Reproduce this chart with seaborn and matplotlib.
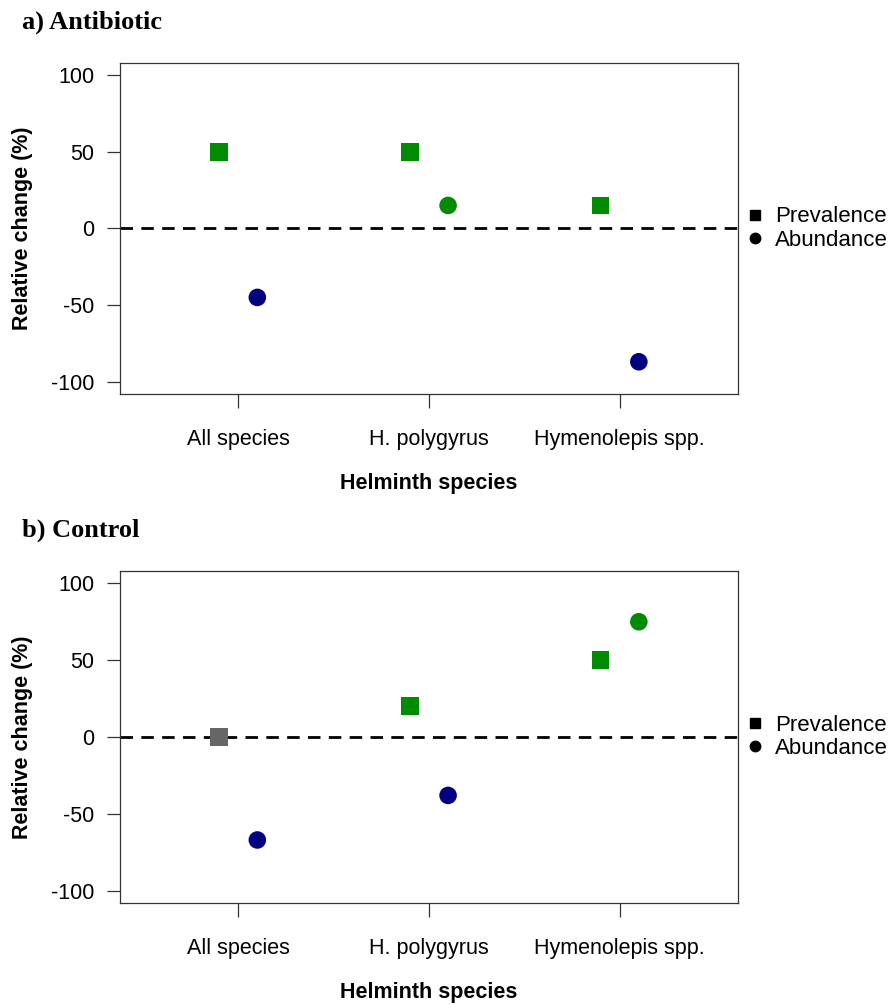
import matplotlib
matplotlib.use("Agg")
import matplotlib.pyplot as plt
from matplotlib.lines import Line2D
import numpy as np
import pandas as pd
import seaborn as sns

# Helminth groups on the x axis
species = ["All species", "H. polygyrus", "Hymenolepis spp."]
measures = ["Prevalence", "Abundance"]

# Relative change (%) after treatment, per group
antibiotic_prevalence = [50, 50, 15]
antibiotic_abundance = [-45, 15, -87]
control_prevalence = [0, 20, 50]
control_abundance = [-67, -38, 75]

panel_titles = ["a) Antibiotic", "b) Control"]
y_ticks = [-100, -50, 0, 50, 100]

sns.set_style("ticks")
plt.rcParams["font.family"] = ["Liberation Sans", "DejaVu Sans"]
plt.rcParams["text.color"] = "black"
plt.rcParams["axes.labelcolor"] = "black"

direction_palette = {"increase": "#008B00", "decrease": "#000080", "none": "#666666"}
marker_map = {"Prevalence": "s", "Abundance": "o"}
offsets = {"Prevalence": -0.1, "Abundance": 0.1}


def long_table(prevalence, abundance):
    rows = []
    for measure, values in zip(measures, [prevalence, abundance]):
        for i, (sp, v) in enumerate(zip(species, values)):
            direction = "increase" if v > 0 else ("decrease" if v < 0 else "none")
            rows.append({"species": sp, "measure": measure, "change": v,
                         "xpos": i + 1 + offsets[measure], "direction": direction})
    return pd.DataFrame(rows)


panels = [long_table(antibiotic_prevalence, antibiotic_abundance),
          long_table(control_prevalence, control_abundance)]

fig = plt.figure(figsize=(8.92, 10.05), dpi=100)
axes_boxes = [[0.1345, 0.608, 0.6929, 0.3294], [0.1345, 0.1015, 0.6929, 0.3303]]
title_y = [1 - 22 / 1005, 1 - 530 / 1005]
fs = 15.5

for df, box, title, ty in zip(panels, axes_boxes, panel_titles, title_y):
    ax = fig.add_axes(box)
    ax.axhline(0, color="black", lw=2.0, linestyle=(0, (4.5, 3)), zorder=1)
    sns.scatterplot(data=df, x="xpos", y="change", hue="direction", style="measure",
                    palette=direction_palette, markers=marker_map, s=160,
                    linewidth=0, legend=False, ax=ax, zorder=3)
    ax.set_xlim(0.38, 3.62)
    ax.set_ylim(-108, 108)
    ax.set_xticks(range(1, len(species) + 1))
    ax.set_xticklabels(species, fontsize=fs)
    ax.set_yticks(y_ticks)
    ax.set_yticklabels([str(t) for t in y_ticks], fontsize=fs)
    ax.tick_params(axis="x", length=10, width=0.9, pad=15, color="#333333", labelcolor="black")
    ax.tick_params(axis="y", length=9.5, width=0.9, pad=9, color="#333333", labelcolor="black")
    for sp in ax.spines.values():
        sp.set_visible(True)
        sp.set_color("#333333")
        sp.set_linewidth(0.9)
    ax.set_xlabel("Helminth species", fontsize=fs, fontweight="bold", labelpad=17)
    ax.set_ylabel("Relative change (%)", fontsize=fs, fontweight="bold", labelpad=13)
    fig.text(0.025, ty, title, fontsize=19, fontweight="bold",
             family=["Liberation Serif", "DejaVu Serif"], va="center", ha="left")

    handles = [Line2D([], [], marker=marker_map[m], color="black", linestyle="none",
                      markersize=7 if m == "Prevalence" else 7.5) for m in measures]
    y0 = (0 - (-108)) / 216
    ax.legend(handles, measures, loc="center left", bbox_to_anchor=(1.0, y0),
              frameon=False, fontsize=16, handlelength=0.8, handletextpad=0.5,
              labelspacing=0.1, borderaxespad=0.15, borderpad=0.2)

fig.savefig("out.png", dpi=100)
